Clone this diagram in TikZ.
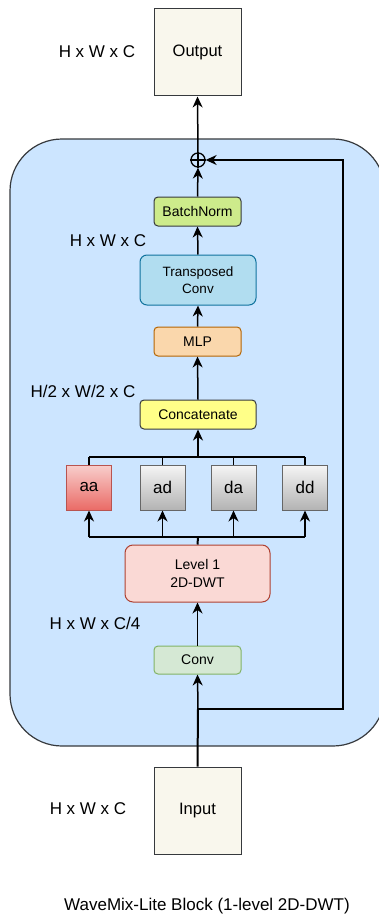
\documentclass[tikz,border=0pt]{standalone}
\usepackage{fontspec}
\setmainfont{Liberation Sans}
\usetikzlibrary{arrows.meta}
\definecolor{blkbg}{HTML}{CCE5FF}
\definecolor{dgray}{HTML}{36393D}
\definecolor{iofill}{HTML}{F9F7ED}
\definecolor{bnfill}{HTML}{CDEB8B}
\definecolor{tcfill}{HTML}{B1DDF0}
\definecolor{tcdraw}{HTML}{10739E}
\definecolor{mlpfill}{HTML}{FAD7AC}
\definecolor{mlpdraw}{HTML}{B46504}
\definecolor{catfill}{HTML}{FFFF88}
\definecolor{aatop}{HTML}{F8CECC}
\definecolor{aabot}{HTML}{EA6B66}
\definecolor{aadraw}{HTML}{B85450}
\definecolor{gtop}{HTML}{F5F5F5}
\definecolor{gbot}{HTML}{B3B3B3}
\definecolor{gdraw}{HTML}{666666}
\definecolor{dwtfill}{HTML}{FAD9D5}
\definecolor{dwtdraw}{HTML}{AE4132}
\definecolor{convfill}{HTML}{D5E8D4}
\definecolor{convdraw}{HTML}{82B366}
\tikzset{
  box/.style={draw, line width=1pt, inner sep=0pt, align=center, font=\fontsize{14}{17}\selectfont},
  iobox/.style={box, fill=iofill, draw=dgray, minimum width=87pt, minimum height=87pt, font=\fontsize{16.5}{19}\selectfont},
  rbox/.style={box, rounded corners=4pt},
  subband/.style={box, minimum width=45pt, minimum height=45pt, font=\fontsize{17}{20}\selectfont},
  dimlabel/.style={inner sep=0pt, font=\fontsize{17}{20}\selectfont},
  arr/.style={line width=1.5pt, -{Stealth[length=11pt,width=10pt,inset=3.5pt]}},
  ln/.style={line width=1.5pt},
}
\begin{document}
\begin{tikzpicture}[x=1pt,y=-1pt]
\useasboundingbox (0,0) rectangle (379,915);
\clip (0,0) rectangle (379,915);
% block background
\draw[fill=blkbg, draw=dgray, line width=1.2pt, rounded corners=52pt] (10,139) rectangle (385,746);
% nodes
\node[iobox] (out) at (197.5,52.5) {Output};
\node[dimlabel] (lout) at (97,52) {H x W x C};
\node[circle, draw, line width=1.3pt, minimum size=14pt, inner sep=0pt] (sum) at (198,160) {};
\draw[line width=1.3pt] (sum.north) -- (sum.south) (sum.west) -- (sum.east);
\node[rbox, fill=bnfill, draw=dgray, minimum width=87pt, minimum height=29pt] (bn) at (197.5,211.5) {BatchNorm};
\node[dimlabel] (l2) at (108,241) {H x W x C};
\node[box, rounded corners=7pt, fill=tcfill, draw=tcdraw, minimum width=116pt, minimum height=50pt, font=\fontsize{13.5}{17}\selectfont] (tc) at (198,280) {Transposed\\Conv};
\node[rbox, fill=mlpfill, draw=mlpdraw, minimum width=87pt, minimum height=29pt] (mlp) at (197.5,341.5) {MLP};
\node[dimlabel] (l3) at (83,391) {H/2 x W/2 x C};
\node[rbox, fill=catfill, draw=dgray, minimum width=116pt, minimum height=29pt] (cat) at (198,414.5) {Concatenate};
\node[subband, draw=aadraw, top color=aatop, bottom color=aabot] (aa) at (89,487.5) {aa};
\node[subband, draw=gdraw, top color=gtop, bottom color=gbot] (ad) at (162.5,487.5) {ad};
\node[subband, draw=gdraw, top color=gtop, bottom color=gbot] (da) at (233.5,487.5) {da};
\node[subband, draw=gdraw, top color=gtop, bottom color=gbot] (dd) at (305,487.5) {dd};
\node[box, rounded corners=8pt, fill=dwtfill, draw=dwtdraw, minimum width=145pt, minimum height=57pt] (dwt) at (197.5,573.5) {Level 1\\[1pt]2D-DWT};
\node[dimlabel] (l4) at (95,623) {H x W x C/4};
\node[rbox, fill=convfill, draw=convdraw, minimum width=87pt, minimum height=28pt] (conv) at (197.5,660) {Conv};
\node[iobox] (in) at (197.5,810.5) {Input};
\node[dimlabel] (lin) at (88,809) {H x W x C};
\node[dimlabel] (cap) at (207,906) {WaveMix-Lite Block (1-level 2D-DWT)};
% coordinates
\coordinate (jtop) at (198,457);
\coordinate (jbot) at (198,537);
\coordinate (sk0) at (198,709);
\coordinate (sk1) at (343,709);
\coordinate (sk2) at (343,160);
% connectors
\draw[line width=2pt] (in.north) -- (sk0);
\draw[arr] (sk0) -- (conv.south);
\draw[arr] (conv.north) -- (dwt.south);
\draw[line width=2pt] (dwt.north) -- (jbot);
\draw[ln] (aa.south |- jbot) -- (dd.south |- jbot);
\foreach \b in {aa,ad,da,dd} {
  \draw[arr] (\b.south |- jbot) -- (\b.south);
  \draw[ln] (\b.north) -- (\b.north |- jtop);
}
\draw[ln] (aa.north |- jtop) -- (dd.north |- jtop);
\draw[arr, line width=1.8pt] (jtop) -- (cat.south);
\draw[arr] (cat.north) -- (mlp.south);
\draw[arr] (mlp.north) -- (tc.south);
\draw[arr] (tc.north) -- (bn.south);
\draw[arr] (bn.north) -- (sum.south);
\draw[arr] (sum.north) -- (out.south);
\draw[arr] (sk0) -- (sk1) -- (sk2) -- (sum.east);
\end{tikzpicture}
\end{document}
